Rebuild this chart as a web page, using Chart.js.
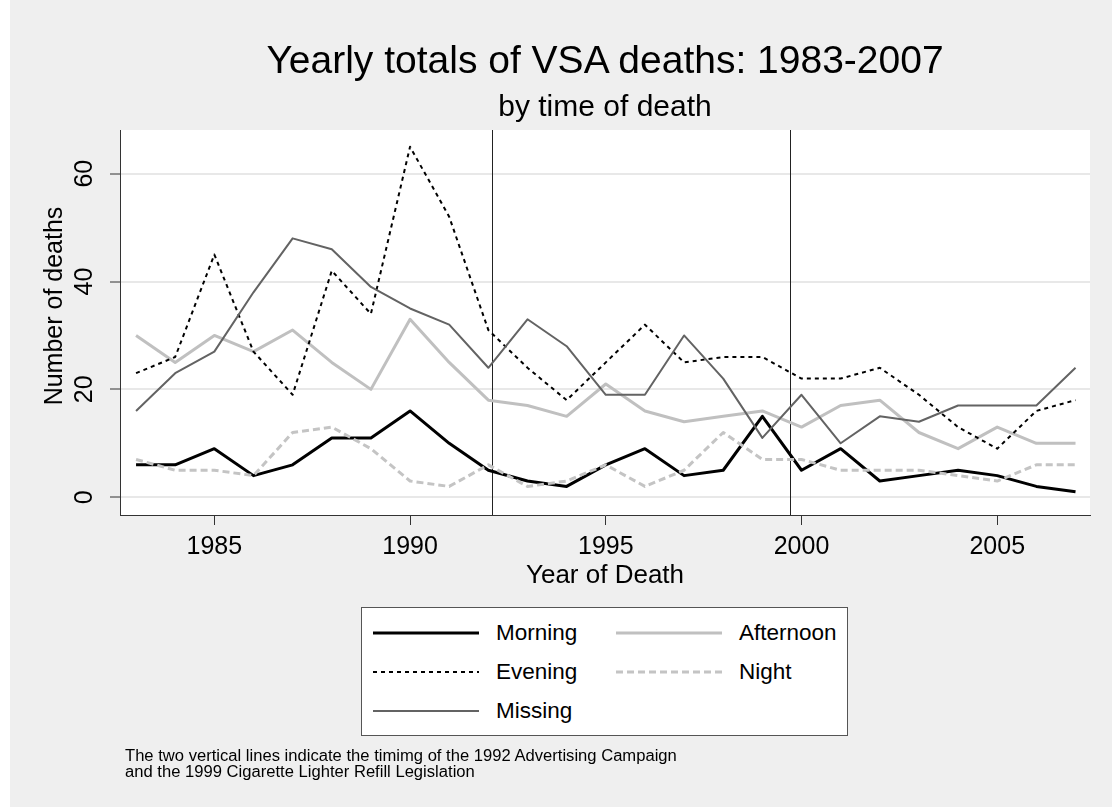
<!DOCTYPE html>
<html>
<head>
<meta charset="utf-8">
<script src="https://cdn.jsdelivr.net/npm/chart.js@4.4.0/dist/chart.umd.min.js"></script>
<style>
  html, body { margin: 0; padding: 0; background: #ffffff; }
  body { width: 1112px; height: 807px; position: relative; overflow: hidden;
         font-family: "Liberation Sans", Arial, sans-serif; color: #000; }
  #bg { position: absolute; left: 10px; top: 0; width: 1102px; height: 807px; background: #efefef; }
  #chart { position: absolute; left: 0; top: 0; }
  .title { position: absolute; left: 105px; width: 1000px; text-align: center; white-space: nowrap; }
  #main-title { top: 40px; font-size: 39px; line-height: 39px; }
  #sub-title { top: 91px; font-size: 30px; line-height: 30px; }
  #legend { position: absolute; left: 361px; top: 607px; width: 485px; height: 127px;
            background: #fff; border: 1px solid #555; }
  .lg-item { position: absolute; height: 26px; }
  .lg-item svg { position: absolute; left: 0; top: 0; }
  .lg-item span { position: absolute; top: 0; font-size: 22.5px; line-height: 26px; white-space: nowrap; }
  #note { position: absolute; left: 125px; top: 748px; font-family: "Liberation Sans Narrow", "Liberation Sans", Arial, sans-serif;
          font-size: 16px; line-height: 16px; white-space: nowrap; transform-origin: 0 0; }
</style>
</head>
<body>
<div id="bg"></div>
<canvas id="chart" width="1112" height="807"></canvas>
<div class="title" id="main-title">Yearly totals of VSA deaths: 1983-2007</div>
<div class="title" id="sub-title">by time of death</div>
<div id="legend"></div>
<div id="note">The two vertical lines indicate the timimg of the 1992 Advertising Campaign<br>and the 1999 Cigarette Lighter Refill Legislation</div>

<script>
// --- DATA ---
const years = [1983, 1984, 1985, 1986, 1987, 1988, 1989, 1990, 1991, 1992, 1993, 1994, 1995,
               1996, 1997, 1998, 1999, 2000, 2001, 2002, 2003, 2004, 2005, 2006, 2007];
const morning   = [6, 6, 9, 4, 6, 11, 11, 16, 10, 5, 3, 2, 6, 9, 4, 5, 15, 5, 9, 3, 4, 5, 4, 2, 1];
const afternoon = [30, 25, 30, 27, 31, 25, 20, 33, 25, 18, 17, 15, 21, 16, 14, 15, 16, 13, 17, 18, 12, 9, 13, 10, 10];
const evening   = [23, 26, 45, 27, 19, 42, 34, 65, 52, 31, 24, 18, 25, 32, 25, 26, 26, 22, 22, 24, 19, 13, 9, 16, 18];
const night     = [7, 5, 5, 4, 12, 13, 9, 3, 2, 6, 2, 3, 6, 2, 5, 12, 7, 7, 5, 5, 5, 4, 3, 6, 6];
const missing   = [16, 23, 27, 38, 48, 46, 39, 35, 32, 24, 33, 28, 19, 19, 30, 22, 11, 19, 10, 15, 14, 17, 17, 17, 24];

const xTicks = [1985, 1990, 1995, 2000, 2005];
const yTicks = [0, 20, 40, 60];
const eventLines = [1992.1, 1999.7];   // advertising campaign, lighter refill legislation

const FONT = '"Liberation Sans", Arial, sans-serif';

// series styles (Stata s2mono look)
const series = [
  { label: 'Morning',   data: morning,   color: '#000000', width: 3, dash: [] },
  { label: 'Afternoon', data: afternoon, color: '#c0c0c0', width: 3, dash: [] },
  { label: 'Evening',   data: evening,   color: '#000000', width: 2, dash: [4, 4] },
  { label: 'Night',     data: night,     color: '#c4c4c4', width: 3, dash: [7, 4] },
  { label: 'Missing',   data: missing,   color: '#636363', width: 2, dash: [] }
];

// white plot region
const plotBg = {
  id: 'plotBg',
  beforeDraw(chart) {
    const { ctx, chartArea: a } = chart;
    ctx.save();
    ctx.fillStyle = '#ffffff';
    ctx.fillRect(a.left, a.top, a.right - a.left, a.bottom - a.top);
    ctx.restore();
  }
};

// vertical event lines
const vLines = {
  id: 'vLines',
  beforeDatasetsDraw(chart) {
    const { ctx, chartArea: a, scales: { x } } = chart;
    ctx.save();
    ctx.strokeStyle = '#222';
    ctx.lineWidth = 1;
    eventLines.forEach(v => {
      const px = Math.round(x.getPixelForValue(v)) + 0.5;
      ctx.beginPath();
      ctx.moveTo(px, a.top);
      ctx.lineTo(px, a.bottom);
      ctx.stroke();
    });
    ctx.restore();
  }
};

// y axis title, Stata centres it a bit higher than the plot region
const yTitle = {
  id: 'yTitle',
  afterDraw(chart) {
    const { ctx } = chart;
    ctx.save();
    ctx.translate(55, 306);
    ctx.rotate(-Math.PI / 2);
    ctx.font = '25px ' + FONT;
    ctx.fillStyle = '#000';
    ctx.textAlign = 'center';
    ctx.textBaseline = 'middle';
    ctx.fillText('Number of deaths', 0, 0);
    ctx.restore();
  }
};

new Chart(document.getElementById('chart'), {
  type: 'line',
  data: {
    datasets: series.map((s, i) => ({
      label: s.label,
      data: years.map((yr, k) => ({ x: yr, y: s.data[k] })),
      borderColor: s.color,
      borderWidth: s.width,
      borderDash: s.dash,
      borderJoinStyle: 'round',
      pointRadius: 0,
      tension: 0,
      fill: false,
      order: series.length - i
    }))
  },
  options: {
    responsive: false,
    animation: false,
    devicePixelRatio: 1,
    layout: { padding: { top: 130, right: 22, bottom: 207, left: 0 } },
    plugins: { legend: { display: false }, title: { display: false }, tooltip: { enabled: false } },
    scales: {
      x: {
        type: 'linear',
        min: 1982.59,
        max: 2007.37,
        afterBuildTicks: scale => { scale.ticks = xTicks.map(v => ({ value: v })); },
        afterFit: scale => { scale.height = 85; },
        grid: { drawOnChartArea: false, drawTicks: true, tickLength: 10, color: '#333' },
        border: { color: '#333', width: 1 },
        ticks: { color: '#000', font: { family: FONT, size: 25 }, padding: 7, maxRotation: 0, autoSkip: false,
                 callback: v => String(v) },
        title: { display: true, text: 'Year of Death', color: '#000', font: { family: FONT, size: 26 },
                 padding: { top: 0, bottom: 9 } }
      },
      y: {
        min: -3.3,
        max: 68.1,
        afterBuildTicks: scale => { scale.ticks = yTicks.map(v => ({ value: v })); },
        afterFit: scale => { scale.width = 120; },
        grid: { color: '#e8e8e8', lineWidth: 2, drawTicks: true, tickLength: 10, tickColor: '#333', tickWidth: 1 },
        border: { color: '#333', width: 1 },
        ticks: { color: '#000', font: { family: FONT, size: 25 }, minRotation: 90, maxRotation: 90,
                 crossAlign: 'center', padding: 11, autoSkip: false }
      }
    }
  },
  plugins: [plotBg, vLines, yTitle]
});

// --- legend box ---
const legendEl = document.getElementById('legend');
const legendPos = [
  { x: 10, y: 12 }, { x: 253, y: 12 },
  { x: 10, y: 51 }, { x: 253, y: 51 },
  { x: 10, y: 90 }
];
series.forEach((s, i) => {
  const p = legendPos[i];
  const item = document.createElement('div');
  item.className = 'lg-item';
  item.style.left = p.x + 'px';
  item.style.top = p.y + 'px';
  item.innerHTML =
    `<svg width="108" height="26"><line x1="1" y1="13" x2="107" y2="13" stroke="${s.color}"
       stroke-width="${s.width}" stroke-dasharray="${s.dash.join(',')}"/></svg>
     <span style="left:124px">${s.label}</span>`;
  legendEl.appendChild(item);
});

// squeeze the note to the narrow width used in the original
const note = document.getElementById('note');
const w = note.offsetWidth;
if (w > 0) note.style.transform = `scaleX(${552 / w})`;
</script>
</body>
</html>
